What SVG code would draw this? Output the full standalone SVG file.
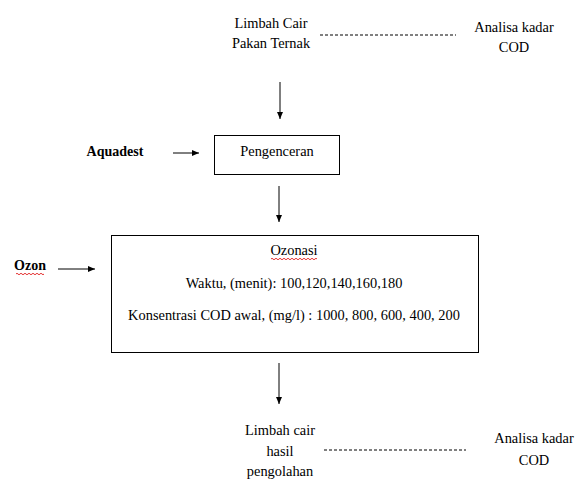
<svg xmlns="http://www.w3.org/2000/svg" width="575" height="479" viewBox="0 0 575 479">
<defs>
<style>
.t{font-family:'Liberation Serif','Times New Roman',Times,serif;font-size:14.4px;fill:#000;text-anchor:middle}
.b{font-weight:bold;font-size:14px}
.box{fill:#fff;stroke:#000;stroke-width:1}
.ln{stroke:#000;stroke-width:1;fill:none}
.dash{stroke:#000;stroke-width:1;stroke-dasharray:3,2;fill:none}
.sq{stroke:#d00;stroke-width:0.8;fill:none}
</style>
<marker id="ah" markerWidth="8" markerHeight="8" refX="7" refY="4" orient="auto" markerUnits="userSpaceOnUse">
<path d="M0,1 L7,4 L0,7 Z" fill="#000"/>
</marker>
</defs>
<rect width="575" height="479" fill="#fff"/>
<g class="t">
<g id="limbah-awal">
<text x="271" y="28">Limbah Cair</text>
<text x="271" y="48">Pakan Ternak</text>
</g>
<g id="analisa-1">
<text x="514" y="32">Analisa kadar</text>
<text x="514" y="52">COD</text>
</g>
<g id="aquadest">
<text class="b" x="115" y="156">Aquadest</text>
</g>
<g id="pengenceran">
<rect class="box" x="214.5" y="135.5" width="125" height="39"/>
<text x="277" y="156">Pengenceran</text>
</g>
<g id="ozon">
<text class="b" x="30" y="270">Ozon</text>
<path class="sq" d="M16,274 q1,-1.5 2,0 t2,0 t2,0 t2,0 t2,0 t2,0 t2,0 t2,0 t2,0 t2,0 t2,0 t2,0 t2,0 t2,0"/>
</g>
<g id="ozonasi">
<rect class="box" x="111.5" y="235.5" width="367" height="117"/>
<text x="294" y="255">Ozonasi</text>
<path class="sq" d="M271,259 q1,-1.5 2,0 t2,0 t2,0 t2,0 t2,0 t2,0 t2,0 t2,0 t2,0 t2,0 t2,0 t2,0 t2,0 t2,0 t2,0 t2,0 t2,0 t2,0 t2,0 t2,0 t2,0 t2,0 t2,0"/>
<text x="294" y="288">Waktu, (menit): 100,120,140,160,180</text>
<text x="294" y="320">Konsentrasi COD awal, (mg/l) : 1000, 800, 600, 400, 200</text>
</g>
<g id="limbah-hasil">
<text x="280" y="435">Limbah cair</text>
<text x="280" y="456">hasil</text>
<text x="280" y="476">pengolahan</text>
</g>
<g id="analisa-2">
<text x="534" y="443">Analisa kadar</text>
<text x="534" y="465">COD</text>
</g>
</g>
<g id="connectors">
<line class="dash" x1="320" y1="35" x2="456" y2="35"/>
<line class="ln" x1="280" y1="82" x2="280" y2="119" marker-end="url(#ah)"/>
<line class="ln" x1="173" y1="153" x2="199" y2="153" marker-end="url(#ah)"/>
<line class="ln" x1="279" y1="186" x2="279" y2="222" marker-end="url(#ah)"/>
<line class="ln" x1="58" y1="269" x2="95" y2="269" marker-end="url(#ah)"/>
<line class="ln" x1="279" y1="363" x2="279" y2="404" marker-end="url(#ah)"/>
<line class="dash" x1="324" y1="450" x2="466" y2="450"/>
</g>
</svg>
